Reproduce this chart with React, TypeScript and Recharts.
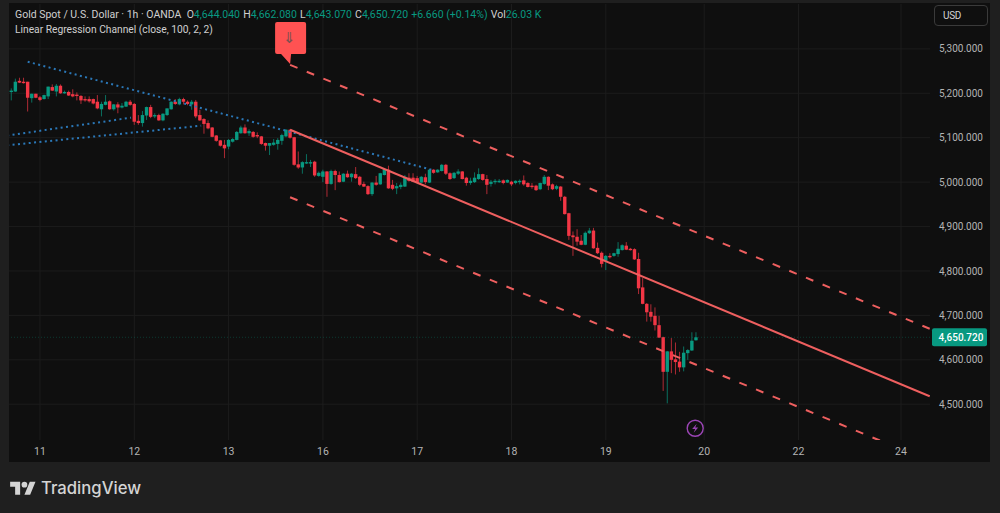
import { Bar, CartesianGrid, ComposedChart, Line, ReferenceDot, ReferenceLine, XAxis, YAxis } from 'recharts';

const candleOpen = [
  5204, 5204, 5228, 5226, 5226, 5189, 5199, 5191, 5187, 5193,
  5214, 5204, 5217, 5201, 5203, 5198, 5197, 5194, 5187, 5187,
  5187, 5181, 5164, 5174, 5182, 5164, 5175, 5168, 5170, 5181,
  5176, 5138, 5133, 5150, 5169, 5149, 5151, 5139, 5151, 5164,
  5181, 5175, 5187, 5181, 5175, 5181, 5151, 5142, 5133, 5123,
  5105, 5094, 5084, 5080, 5091, 5095, 5110, 5123, 5110, 5113,
  5106, 5103, 5088, 5082, 5084, 5086, 5093, 5103, 5118, 5101,
  5040, 5033, 5043, 5043, 5046, 5014, 5012, 5024, 4996, 5025,
  5016, 5001, 5019, 5011, 5018, 5012, 4996, 4991, 4973, 4999,
  4995, 5016, 5028, 4994, 4986, 4989, 4990, 5010, 5010, 5009,
  4999, 5011, 4999, 5028, 5022, 5025, 5039, 5020, 5009, 5019,
  5024, 5010, 4998, 5000, 5007, 5018, 5007, 4996, 5000, 5001,
  5004, 4999, 5001, 4998, 5000, 5004, 4998, 4992, 4992, 4984,
  4996, 5012, 4995, 4985, 4990, 4967, 4930, 4880, 4877, 4868,
  4859, 4885, 4891, 4852, 4841, 4823, 4834, 4834, 4838, 4847,
  4857, 4850, 4849, 4827, 4763, 4726, 4708, 4699, 4678, 4651,
  4573, 4619, 4601, 4596, 4583, 4615, 4621, 4644.04,
];
const candleHigh = [
  5211, 5233, 5235, 5235, 5226, 5199, 5199, 5194, 5197, 5215,
  5220, 5221, 5220, 5206, 5206, 5209, 5202, 5196, 5193, 5193,
  5188, 5196, 5181, 5196, 5184, 5176, 5180, 5178, 5183, 5185,
  5178, 5151, 5160, 5170, 5174, 5155, 5154, 5155, 5166, 5182,
  5187, 5190, 5190, 5184, 5185, 5185, 5163, 5144, 5139, 5124,
  5106, 5095, 5095, 5097, 5099, 5115, 5127, 5130, 5119, 5115,
  5112, 5104, 5089, 5088, 5097, 5099, 5109, 5119, 5119, 5102,
  5069, 5047, 5063, 5050, 5048, 5024, 5028, 5025, 5028, 5028,
  5024, 5020, 5026, 5020, 5034, 5014, 5001, 4993, 5000, 5014,
  5021, 5031, 5037, 5005, 4998, 4999, 5016, 5020, 5020, 5014,
  5014, 5019, 5029, 5029, 5029, 5041, 5041, 5022, 5023, 5029,
  5025, 5012, 5010, 5022, 5031, 5019, 5016, 5005, 5007, 5007,
  5006, 5006, 5003, 5004, 5006, 5015, 5000, 4998, 4994, 4999,
  5016, 5013, 4997, 4994, 4991, 4969, 4931, 4889, 4894, 4881,
  4889, 4897, 4897, 4864, 4844, 4836, 4840, 4841, 4865, 4860,
  4865, 4852, 4851, 4841, 4784, 4728, 4725, 4718, 4699, 4652,
  4620, 4649, 4639, 4618, 4630, 4624, 4662, 4662.08,
];
const candleLow = [
  5184, 5203, 5223, 5222, 5159, 5179, 5189, 5182, 5186, 5187,
  5205, 5193, 5199, 5199, 5194, 5191, 5184, 5176, 5181, 5179,
  5175, 5164, 5148, 5173, 5163, 5161, 5155, 5166, 5169, 5172,
  5129, 5129, 5125, 5140, 5144, 5144, 5138, 5137, 5149, 5163,
  5174, 5173, 5175, 5173, 5163, 5144, 5138, 5109, 5119, 5101,
  5091, 5080, 5054, 5074, 5089, 5094, 5109, 5109, 5104, 5100,
  5099, 5084, 5071, 5061, 5082, 5073, 5084, 5101, 5098, 5037,
  5030, 5019, 5041, 5034, 5012, 5012, 5000, 4967, 4994, 4982,
  4999, 5000, 5010, 5001, 5007, 4991, 4989, 4971, 4969, 4992,
  4994, 5015, 4985, 4982, 4973, 4984, 4989, 5001, 5000, 4998,
  4998, 4995, 4998, 5019, 5021, 5024, 5016, 5005, 5007, 5016,
  5006, 4992, 4994, 4998, 5005, 5003, 4973, 4990, 4995, 4998,
  4995, 4998, 4991, 4995, 4995, 4992, 4988, 4985, 4980, 4982,
  4994, 4982, 4982, 4982, 4958, 4927, 4870, 4834, 4857, 4858,
  4858, 4883, 4850, 4838, 4808, 4802, 4828, 4832, 4832, 4846,
  4847, 4846, 4825, 4748, 4725, 4686, 4686, 4666, 4649, 4530,
  4502, 4570, 4567, 4573, 4574, 4600, 4620, 4643.07,
];
const candleClose = [
  5206, 5226, 5224, 5223, 5190, 5199, 5190, 5185, 5196, 5215,
  5206, 5217, 5200, 5203, 5195, 5193, 5195, 5184, 5185, 5182,
  5177, 5166, 5176, 5181, 5164, 5175, 5168, 5172, 5181, 5174,
  5136, 5133, 5151, 5169, 5147, 5151, 5139, 5154, 5166, 5181,
  5176, 5187, 5181, 5176, 5181, 5148, 5139, 5131, 5121, 5102,
  5093, 5082, 5076, 5095, 5097, 5113, 5123, 5110, 5115, 5102,
  5103, 5086, 5082, 5088, 5089, 5095, 5106, 5118, 5100, 5039,
  5033, 5045, 5045, 5045, 5015, 5021, 5024, 4996, 5025, 5016,
  5000, 5019, 5011, 5019, 5009, 4994, 4990, 4973, 4999, 4994,
  5020, 5029, 4986, 4985, 4991, 4994, 5012, 5003, 5001, 4999,
  5012, 5000, 5028, 5021, 5028, 5039, 5019, 5007, 5021, 5024,
  5007, 4998, 5003, 5010, 5018, 5005, 4994, 5001, 5003, 5003,
  4998, 5005, 4995, 5003, 5003, 4995, 4989, 4990, 4982, 4998,
  5012, 4992, 4984, 4991, 4967, 4928, 4879, 4876, 4866, 4859,
  4886, 4891, 4851, 4840, 4816, 4834, 4831, 4840, 4850, 4858,
  4848, 4847, 4826, 4761, 4726, 4707, 4697, 4678, 4650, 4573,
  4619, 4600, 4595, 4583, 4616, 4622, 4643, 4650.72,
];

// x axis counts candles, weekend gaps are not on it
const xTicks = [8, 31, 54, 77, 100, 123, 146, 170, 193, 218];
const xTickLabels = ['11', '12', '13', '16', '17', '18', '19', '20', '22', '24'];
const priceTicks = [5300, 5200, 5100, 5000, 4900, 4800, 4700, 4600, 4500];

const channelX = [69, 225];
const channelMid = [5118, 4518];
const channelUpper = [5264, 4670];
const channelLower = [4966, 4372];

const dottedTopX = [5, 103.5];
const dottedTop = [5271, 5028];
const dottedMidX = [0, 30.2];
const dottedMid = [5105, 5145];
const dottedLowX = [0, 47.3];
const dottedLow = [5083, 5127];

const lastPrice = 4650.72;

const UP = '#089981';
const DOWN = '#f23645';
const CHANNEL = '#ee5f5f';
const DOTTED = '#2b78b8';
const AXIS_TEXT = '#b4b4b4';
const FONT = 'Roboto, sans-serif';

const candles = candleOpen.map((open, i) => ({
  x: i + 1,
  open,
  high: candleHigh[i],
  low: candleLow[i],
  close: candleClose[i],
  range: [candleLow[i], candleHigh[i]],
}));

const toLine = (xs: number[], ys: number[]) => xs.map((x, i) => ({ x, y: ys[i] }));

function Candle(props: any) {
  const { x, y, width, height, payload } = props;
  const k = height / (payload.high - payload.low);
  const color = payload.close >= payload.open ? UP : DOWN;
  const mid = x + width / 2;
  const top = y + (payload.high - Math.max(payload.open, payload.close)) * k;
  const bodyH = Math.max(Math.abs(payload.close - payload.open) * k, 1.4);
  return (
    <g>
      <line x1={mid} x2={mid} y1={y} y2={y + height} stroke={color} strokeOpacity={0.7} />
      <rect x={mid - 1.7} y={top} width={3.4} height={bodyH} fill={color} />
    </g>
  );
}

function SellFlag({ cx, cy }: any) {
  const d = `M${cx - 15} ${cy - 40} q0 -2 2 -2 h27 q2 0 2 2 v28 q0 2 -2 2 h-13 l-1 10 l-9 -10 h-4 q-2 0 -2 -2 z`;
  return (
    <g>
      <path d={d} fill="#ff5252" />
      <text x={cx - 1} y={cy - 21} textAnchor="middle" fontSize={15} fill="#7a5050" fontFamily='"DejaVu Sans", sans-serif'>⇓</text>
    </g>
  );
}

function BoltBadge({ cx, cy }: any) {
  return (
    <g>
      <circle cx={cx} cy={cy} r={8} fill="#0f0f0f" stroke="#9b45b5" strokeWidth={1.4} />
      <path d={`M${cx + 1.5} ${cy - 4.5} l-4.5 5.2 h3 l-1.5 3.8 l4.5 -5.2 h-3 z`} fill="#9b45b5" />
    </g>
  );
}

function PriceTag({ viewBox }: any) {
  const right = viewBox.x + viewBox.width;
  return (
    <g>
      <rect x={right + 2} y={viewBox.y - 9} width={55} height={18} rx={2} fill={UP} />
      <text x={right + 31} y={viewBox.y + 3.5} textAnchor="middle" fontSize={10} fontWeight={500} fill="#fff" fontFamily={FONT}>4,650.720</text>
    </g>
  );
}

export default function App() {
  const legendValue = { color: UP };
  const legendGap = { marginLeft: 3.2 };
  return (
    <div style={{ position: 'absolute', left: 0, top: 0, width: 1000, height: 513, background: '#1f1f1f', overflow: 'hidden', fontFamily: FONT }}>
      <div style={{ position: 'absolute', left: 9, top: 3, width: 981, height: 459, background: '#0f0f0f' }} />
      <div style={{ position: 'absolute', left: 0, top: 0 }}>
        <ComposedChart
          width={1000}
          height={513}
          data={candles}
          margin={{ top: 4, left: 9, right: 10, bottom: 51 }}
        >
          <CartesianGrid stroke="#1c1c1c" syncWithTicks />
          <XAxis
            dataKey="x"
            type="number"
            domain={[0.44, 225.07]}
            allowDataOverflow
            ticks={xTicks}
            tickFormatter={(v) => xTickLabels[xTicks.indexOf(v)]}
            interval={0}
            axisLine={false}
            tickLine={false}
            height={22}
            tickMargin={2}
            tick={{ fill: AXIS_TEXT, fontSize: 10.5, fontFamily: FONT }}
          />
          <YAxis
            orientation="right"
            type="number"
            domain={[4419.5, 5401]}
            allowDataOverflow
            ticks={priceTicks}
            tickFormatter={(v) => `${v.toLocaleString('en-US')}.000`}
            interval={0}
            axisLine={false}
            tickLine={false}
            width={60}
            tickMargin={3}
            tick={{ fill: AXIS_TEXT, fontSize: 10, fontFamily: FONT }}
          />
          <ReferenceLine y={lastPrice} stroke={UP} strokeOpacity={0.3} strokeDasharray="1 2" label={<PriceTag />} />
          <Bar dataKey="range" barSize={3} shape={<Candle />} isAnimationActive={false} />
          <Line data={toLine(dottedTopX, dottedTop)} dataKey="y" stroke={DOTTED} strokeWidth={2} strokeDasharray="2 3.4" dot={false} activeDot={false} isAnimationActive={false} />
          <Line data={toLine(dottedMidX, dottedMid)} dataKey="y" stroke={DOTTED} strokeWidth={2} strokeDasharray="2 3.4" dot={false} activeDot={false} isAnimationActive={false} />
          <Line data={toLine(dottedLowX, dottedLow)} dataKey="y" stroke={DOTTED} strokeWidth={2} strokeDasharray="2 3.4" dot={false} activeDot={false} isAnimationActive={false} />
          <Line data={toLine(channelX, channelMid)} dataKey="y" stroke={CHANNEL} strokeWidth={2} dot={false} activeDot={false} isAnimationActive={false} />
          <Line data={toLine(channelX, channelUpper)} dataKey="y" stroke={CHANNEL} strokeWidth={2} strokeDasharray="8 10" dot={false} activeDot={false} isAnimationActive={false} />
          <Line data={toLine(channelX, channelLower)} dataKey="y" stroke={CHANNEL} strokeWidth={2} strokeDasharray="8 10" dot={false} activeDot={false} isAnimationActive={false} />
          <ReferenceDot x={69} y={5266} shape={<SellFlag />} />
          <ReferenceDot x={167.8} y={4446} shape={<BoltBadge />} />
        </ComposedChart>
      </div>
      <div style={{ position: 'absolute', left: 15, top: 8, fontSize: 10.5, lineHeight: '14px', color: '#cfcfcf', whiteSpace: 'nowrap' }}>
        Gold Spot / U.S. Dollar · 1h · OANDA
        <span style={{ marginLeft: 5.2 }}>O<span style={legendValue}>4,644.040</span></span>
        <span style={legendGap}>H<span style={legendValue}>4,662.080</span></span>
        <span style={legendGap}>L<span style={legendValue}>4,643.070</span></span>
        <span style={legendGap}>C<span style={legendValue}>4,650.720</span></span>
        <span style={{ ...legendValue, ...legendGap }}>+6.660 (+0.14%)</span>
        <span style={legendGap}>Vol<span style={legendValue}>26.03 K</span></span>
      </div>
      <div style={{ position: 'absolute', left: 15, top: 23, fontSize: 10.25, lineHeight: '14px', color: '#cfcfcf', whiteSpace: 'nowrap' }}>
        Linear Regression Channel (close, 100, 2, 2)
      </div>
      <div style={{ position: 'absolute', left: 934, top: 5, width: 54, height: 21, boxSizing: 'border-box', border: '1px solid #3a3a3a', borderRadius: 4, fontSize: 10, letterSpacing: -0.3, lineHeight: '19px', paddingLeft: 8, color: '#d4d4d4' }}>
        USD
      </div>
      <svg style={{ position: 'absolute', left: 10, top: 479 }} width={26} height={20} viewBox="0 0 36 28">
        <path d="M14 22H7V11H0V4h14v18zM28 22h-8l7.5-18h8L28 22z" fill="#d4d4d4" />
        <circle cx={20} cy={8} r={4} fill="#d4d4d4" />
      </svg>
      <div style={{ position: 'absolute', left: 41, top: 476, fontFamily: 'Inter, sans-serif', fontSize: 16.7, fontWeight: 500, lineHeight: '24px', color: '#d4d4d4' }}>
        TradingView
      </div>
    </div>
  );
}
